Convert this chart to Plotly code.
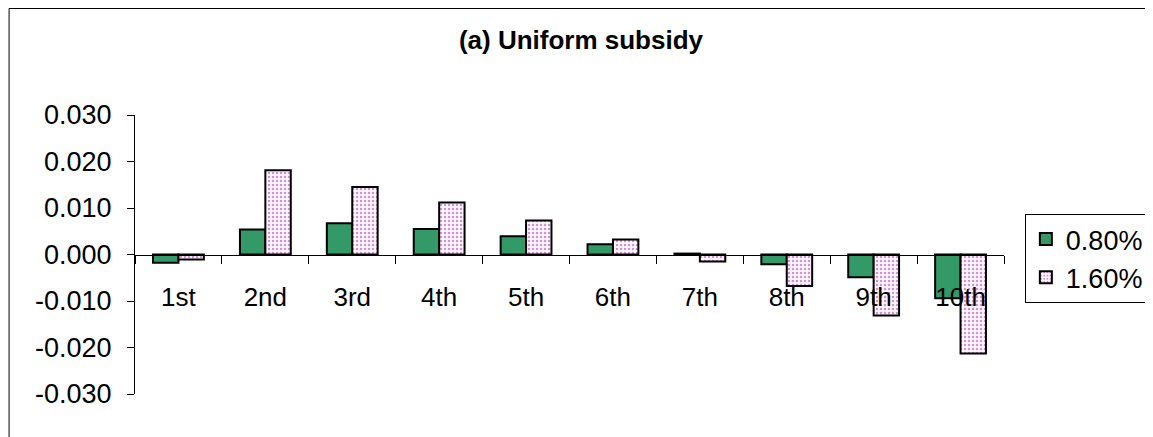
import plotly.graph_objects as go

# ── Data ──────────────────────────────────────────────────────────────────────
categories = ["1st", "2nd", "3rd", "4th", "5th", "6th", "7th", "8th", "9th", "10th"]
rate_080 = [-0.0018, 0.0054, 0.0067, 0.0055, 0.0039, 0.0022, 0.0002, -0.0021, -0.0049, -0.0094]
rate_160 = [-0.0011, 0.0181, 0.0145, 0.0112, 0.0073, 0.0032, -0.0015, -0.0068, -0.0131, -0.0213]
y_ticks = [-0.03, -0.02, -0.01, 0.0, 0.01, 0.02, 0.03]
y_tick_text = ["-0.030", "-0.020", "-0.010", "0.000", "0.010", "0.020", "0.030"]

FONT = "Liberation Sans, Arial, sans-serif"
GREEN = "#339966"

fig = go.Figure()

fig.add_trace(go.Bar(
    x=categories, y=rate_080, name="0.80%",
    marker=dict(color=GREEN, line=dict(color="black", width=2)),
))
fig.add_trace(go.Bar(
    x=categories, y=rate_160, name="1.60%",
    marker=dict(
        color="white",
        line=dict(color="black", width=2),
        pattern=dict(shape=".", fgcolor="#993399", bgcolor="#fff6ff",
                     size=4, solidity=0.3),
    ),
))

# page body adds an 8px offset, so everything is placed 8px up/left
fig.update_layout(
    width=1153, height=437,
    paper_bgcolor="white", plot_bgcolor="white",
    margin=dict(l=127, r=153, t=107, b=51),
    barmode="group", bargap=0.415, bargroupgap=0,
    font=dict(family=FONT, size=26, color="black"),
    title=dict(
        text="<b>(a) Uniform subsidy</b>",
        font=dict(family=FONT, size=26, color="black"),
        xref="paper", x=(575 - 127) / 873, xanchor="center",
        yref="container", y=1 - 32 / 437, yanchor="middle",
    ),
    showlegend=True,
    legend=dict(
        x=1.024, xanchor="left", y=0.645, yanchor="top",
        bordercolor="black", borderwidth=1,
        font=dict(family=FONT, size=27, color="black"),
        tracegroupgap=0, itemwidth=30,
    ),
    xaxis=dict(
        anchor="free", position=0.5,
        showline=True, linecolor="black", linewidth=1,
        ticks="outside", ticklen=8, tickcolor="black",
        tickson="boundaries", ticklabelstandoff=19,
        showgrid=False, zeroline=False,
        tickfont=dict(family=FONT, size=26, color="black"),
    ),
    yaxis=dict(
        range=[-0.03, 0.03],
        tickvals=y_ticks, ticktext=y_tick_text,
        showline=True, linecolor="black", linewidth=1,
        ticks="outside", ticklen=7, tickcolor="black",
        ticklabelstandoff=10,
        showgrid=False, zeroline=False,
        tickfont=dict(family=FONT, size=27, color="black"),
    ),
)

# chart-area frame (clipped at right and bottom as in the source)
fig.add_shape(type="rect", xref="paper", yref="paper",
              x0=(0.5 - 127) / 873, x1=1.3, y0=-0.4, y1=(386 - 0.5) / 279,
              line=dict(color="black", width=1), layer="below")

fig.write_html("out.html")
